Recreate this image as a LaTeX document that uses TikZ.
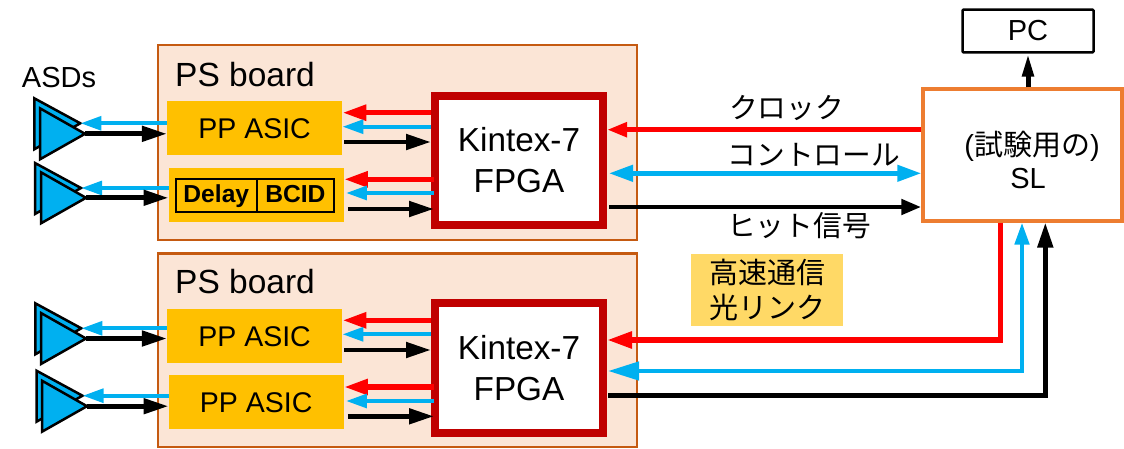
\documentclass[tikz,border=0pt]{standalone}
\usepackage{fontspec}
\setmainfont{Liberation Sans}
\newfontfamily\cjk{Noto Sans CJK JP}
\usetikzlibrary{arrows.meta,positioning}
\definecolor{BoardFill}{RGB}{251,229,214}
\definecolor{BoardEdge}{RGB}{197,90,17}
\definecolor{ChipGold}{RGB}{255,192,0}
\definecolor{FpgaRed}{RGB}{192,0,0}
\definecolor{SlOrange}{RGB}{237,125,49}
\definecolor{SigRed}{RGB}{255,0,0}
\definecolor{SigCyan}{RGB}{0,176,240}
\definecolor{LinkGold}{RGB}{255,217,102}
\newcommand{\fs}[1]{\fontsize{#1}{#1}\selectfont}

\begin{document}
\begin{tikzpicture}[x=1pt, y=-1pt,
    board/.style={draw=BoardEdge, fill=BoardFill, line width=2.5pt, minimum width=479pt},
    chip/.style={fill=ChipGold, draw=none, minimum width=175pt, minimum height=54pt, inner sep=0pt, font=\fs{28.5}},
    fpga/.style={draw=FpgaRed, fill=white, line width=8pt, minimum width=168pt, align=center, font=\fs{33.3}, execute at begin node={\setlength{\baselineskip}{41pt}}},
    cell/.style={draw=black, line width=2.2pt, outer sep=0pt, minimum height=33pt, inner sep=0pt, text height=19pt, text depth=5pt, font=\bfseries\fs{24.6}},
    boardlabel/.style={anchor=west, inner sep=0pt, font=\fs{33.5}},
    sig/.style={anchor=west, inner sep=0pt, font=\cjk\fs{28.7}},
    amp/.style={draw=black, fill=SigCyan, line width=2.5pt},
    clockline/.style={SigRed, line width=5.5pt, -{Triangle[length=24pt,width=15pt]}},
    ctrlline/.style={SigCyan, line width=4.2pt, -{Triangle[length=21pt,width=13.5pt]}},
    hitline/.style={black, line width=4.8pt, -{Triangle[length=25pt,width=15pt]}}]
    \useasboundingbox (0,0) rectangle (1124,448);

    % Boards
    \node[board, minimum height=195pt] (boarda) at (397.5,142.5) {};
    \node[board, minimum height=193.5pt] (boardb) at (397.5,350.25) {};
    \node[boardlabel] (boardlabela) at (175,75) {PS board};
    \node[boardlabel] (boardlabelb) at (175,282) {PS board};

    % Chips
    \node[chip] (ppa) at (254.6,128.3) {PP ASIC};
    \node[chip] (ppb) at (256.2,194.7) {};
    \node[chip] (ppc) at (254.6,336.3) {PP ASIC};
    \node[chip] (ppd) at (256.2,402.3) {PP ASIC};
    \node[cell, minimum width=81.3pt] (delay) at (216.3,195.5) {Delay};
    \node[cell, minimum width=77pt, right=0pt of delay] (bcid) {BCID};

    \node[fpga, minimum height=129pt] (fpgaa) at (519,160.5) {Kintex-7\\FPGA};
    \node[fpga, minimum height=129.2pt] (fpgab) at (519,367.9) {Kintex-7\\FPGA};

    % Right side
    \node[draw=SlOrange, fill=white, line width=3.5pt, minimum width=199pt, minimum height=131.7pt] (sl) at (1022.5,154.9) {};
    \node[align=center, inner sep=0pt, font=\fs{29}, execute at begin node={\setlength{\baselineskip}{33pt}}] (sltext) at (1032,160) {({\cjk 試験用の})\\SL\kern8pt};
    \node[draw=black, line width=2.5pt, rounded corners=1pt, minimum width=131pt, minimum height=42.6pt, font=\fs{29}] (pc) at (1028,31) {PC};
    \node[inner sep=0pt, font=\fs{29}] (asds) at (59,78) {ASDs};

    % Signal names
    \node[sig] (clocklabel) at (729,108) {クロック};
    \node[sig] (ctrllabel) at (727.5,155) {コントロール};
    \node[sig] (hitlabel) at (727,226) {ヒット信号};
    \node[fill=LinkGold, minimum width=152.6pt, minimum height=71.7pt, align=center, inner sep=0pt, font=\cjk\fs{29}, execute at begin node={\setlength{\baselineskip}{35pt}}] (linklabel) at (767,289.8) {高速通信\\光リンク};

    % ASD triangles
    \foreach \n/\xa/\ya/\xb/\yb in {a/34.3/98.3/40/108.3, b/35/163/41/172.3, c/35.3/303.3/41/313, d/36.5/370.7/42/380.7}{
        \draw[amp] (\xa,\ya) -- (\xa,\ya+51) -- (\xa+46,\ya+25) -- cycle;
        \coordinate (back\n) at (\xa+46,\ya+25);
        \draw[amp] (\xb,\yb) -- (\xb,\yb+51) -- (\xb+45,\yb+25.5) -- cycle;
        \coordinate (front\n) at (\xb+45,\yb+25.5);
    }

    % ASD to chip
    \foreach \n/\chipname in {a/ppa, b/ppb, c/ppc, d/ppd}{
        \draw[ctrlline] (\chipname.west |- back\n) -- (back\n);
        \draw[hitline] (front\n) -- (\chipname.west |- front\n);
    }

    % Chip to FPGA
    \foreach \chipname/\fpganame/\ry/\cy/\ky/\dx/\ds in {ppa/fpgaa/112.7/126.7/142/0/2, ppb/fpgaa/179.3/193/209/3/4, ppc/fpgab/320.3/334.3/350/0/2, ppd/fpgab/387/401/416.3/3/4}{
        \draw[clockline, shorten <=-\dx pt] (\fpganame.west |- 0,\ry) -- (\chipname.east |- 0,\ry);
        \draw[ctrlline, shorten <=-\dx pt, shorten >=\ds pt-2pt] (\fpganame.west |- 0,\cy) -- (\chipname.east |- 0,\cy);
        \draw[hitline, shorten <=\ds pt, shorten >=-\dx pt] (\chipname.east |- 0,\ky) -- (\fpganame.west |- 0,\ky);
    }

    % FPGA to SL, top board
    \draw[clockline, -{Triangle[length=20pt,width=14pt]}] (sl.west |- 0,129.7) -- (fpgaa.east |- 0,129.7);
    \draw[SigCyan, line width=4.5pt, {Triangle[length=24pt,width=16pt]}-{Triangle[length=24pt,width=16pt]}, shorten <=2pt] (fpgaa.east |- 0,173.3) -- (sl.west |- 0,173.3);
    \draw[hitline, shorten <=2pt, -{Triangle[length=20pt,width=15pt]}] (fpgaa.east |- 0,207) -- (sl.west |- 0,207);

    % FPGA to SL, bottom board
    \coordinate (redcorner) at (1000.3,340);
    \coordinate (cyancorner) at (1022,371);
    \coordinate (blackcorner) at (1045.3,395.7);
    \draw[clockline, -{Triangle[length=25pt,width=16pt]}] (redcorner |- sl.south) -- (redcorner) -- (fpgab.east |- redcorner);
    \draw[SigCyan, line width=4.5pt, {Triangle[length=31pt,width=18pt]}-{Triangle[length=22pt,width=14pt]}, shorten <=1pt] (fpgab.east |- cyancorner) -- (cyancorner) -- (cyancorner |- sl.south);
    \draw[hitline, shorten <=1pt, -{Triangle[length=25pt,width=15pt]}] (fpgab.east |- blackcorner) -- (blackcorner) -- (blackcorner |- sl.south);

    % SL to PC
    \draw[black, line width=5pt, -{Triangle[length=23pt,width=11pt]}] (pc.south |- sl.north) -- (pc.south);
\end{tikzpicture}
\end{document}
